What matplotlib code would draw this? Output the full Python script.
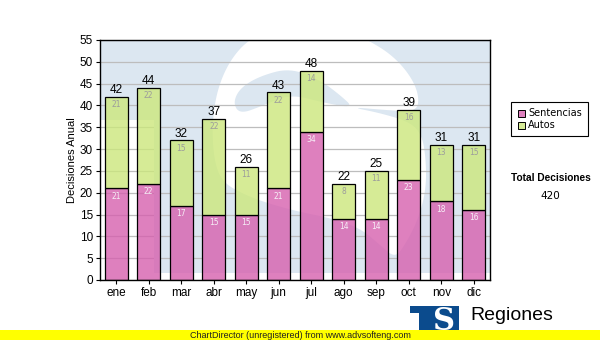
import matplotlib

matplotlib.use("Agg")
import matplotlib.pyplot as plt
import numpy as np
from matplotlib.colors import to_rgba
from matplotlib.patches import PathPatch, Polygon, Rectangle
from matplotlib.path import Path


months = ["ene", "feb", "mar", "abr", "may", "jun", "jul", "ago", "sep", "oct", "nov", "dic"]
sentencias = [21, 22, 17, 15, 15, 21, 34, 14, 14, 23, 18, 16]
autos = [21, 22, 15, 22, 11, 22, 14, 8, 11, 16, 13, 15]
series_names = ["Sentencias", "Autos"]
y_label = "Decisiones Anual"
total_title = "Total Decisiones"
footer_text = "ChartDirector (unregistered) from www.advsofteng.com"
brand_text = "Regiones"

PINK = "#d660ae"
GREEN = "#cce77c"
BAR_ALPHA = 0.8
WM_BLUE = "#dce7f1"
LOGO_BLUE = "#0b4b8d"

W, H = 600, 340
PLOT = (100, 40, 490, 280)  # left, top, right, bottom (pixels)

# background logo, in pixel coords: light panel, white "S", and the S's inner counter
WM_PANEL = [(100, 40), (490, 40), (490, 273), (154, 273), (154, 120), (100, 120)]
WM_S = [(350, 107), (385, 110), (417, 112), (419, 95), (410, 75), (392, 55), (368, 40),
        (340, 28), (280, 28), (250, 38), (230, 60), (217, 90), (212, 125), (214, 160),
        (222, 182), (245, 195), (270, 204), (300, 212), (330, 218), (360, 228),
        (380, 245), (395, 258), (405, 245), (418, 220), (426, 190), (426, 160),
        (422, 135), (410, 122), (380, 113)]
WM_COUNTER = [(233, 103), (240, 88), (260, 76), (290, 68), (320, 80), (340, 95),
              (354, 108), (325, 103), (290, 94), (262, 106), (240, 114)]


def px_rect(left, top, right, bottom):
    return [left / W, 1 - bottom / H, (right - left) / W, (bottom - top) / H]


def smooth_closed(points, n_iter=3):
    pts = np.asarray(points, dtype=float)
    for _ in range(n_iter):
        nxt = np.roll(pts, -1, axis=0)
        q = 0.75 * pts + 0.25 * nxt
        r = 0.25 * pts + 0.75 * nxt
        pts = np.empty((2 * len(q), 2))
        pts[0::2] = q
        pts[1::2] = r
    return pts


def draw_watermark(target, transform, zorder, clip=None):
    shapes = [
        Polygon(WM_PANEL, closed=True, facecolor=WM_BLUE),
        Polygon(smooth_closed(WM_S), closed=True, facecolor="white"),
        Polygon(smooth_closed(WM_COUNTER), closed=True, facecolor=WM_BLUE),
    ]
    for p in shapes:
        p.set_edgecolor("none")
        p.set_transform(transform)
        p.set_zorder(zorder)
        target.add_patch(p)
        if clip is not None:
            p.set_clip_path(clip)


fig = plt.figure(figsize=(W / 100, H / 100), dpi=100)
rect = px_rect(*PLOT)

ax_bg = fig.add_axes(rect, zorder=0)
ax_bg.set_xlim(PLOT[0], PLOT[2])
ax_bg.set_ylim(PLOT[3], PLOT[1])
ax_bg.axis("off")
draw_watermark(ax_bg, ax_bg.transData, 0)

ax = fig.add_axes(rect, zorder=1)
ax.patch.set_alpha(0)
x = np.arange(len(months))
totals = np.array(sentencias) + np.array(autos)

bar_kw = dict(width=0.71, edgecolor="black", linewidth=0.9, zorder=2)
b1 = ax.bar(x, sentencias, color=to_rgba(PINK, BAR_ALPHA), **bar_kw)
b2 = ax.bar(x, autos, bottom=sentencias, color=to_rgba(GREEN, BAR_ALPHA), **bar_kw)
for r in list(b1) + list(b2):
    r.set_edgecolor("black")

# repaint the logo inside the bars so grid lines stay hidden behind them
bar_paths = [r.get_path().transformed(r.get_patch_transform()) for r in list(b1) + list(b2)]
clip = PathPatch(Path.make_compound_path(*bar_paths), transform=ax.transData)
draw_watermark(ax, ax_bg.transData, 1, clip=clip)

for xi, s, a, t in zip(x, sentencias, autos, totals):
    ax.annotate(str(s), (xi, s), xytext=(0, -5.5), textcoords="offset points",
                ha="center", va="center", fontsize=5.5, color="#f6eef6",
                family="DejaVu Sans", zorder=3)
    ax.annotate(str(a), (xi, s + a), xytext=(0, -5.5), textcoords="offset points",
                ha="center", va="center", fontsize=5.5, color="#9c9c9c",
                family="DejaVu Sans", zorder=3)
    ax.annotate(str(t), (xi, t), xytext=(0, 0.5), textcoords="offset points",
                ha="center", va="bottom", fontsize=8.5, color="black",
                family="Liberation Sans", zorder=3)

ax.set_xlim(-0.5, len(months) - 0.5)
ax.set_ylim(0, 55)
ax.set_yticks(np.arange(0, 56, 5))
ax.set_xticks(x)
ax.set_xticklabels(months)
ax.grid(axis="y", color="#bdbdbd", lw=0.9)
ax.set_axisbelow(True)
ax.tick_params(axis="both", length=3, width=0.8, labelsize=8.5, pad=2, colors="black")
for lab in ax.get_xticklabels() + ax.get_yticklabels():
    lab.set_family("Liberation Sans")
for sp in ax.spines.values():
    sp.set_linewidth(1.0)

# figure-level overlay in pixel coordinates for legend, totals and footer
ov = fig.add_axes([0, 0, 1, 1], zorder=5)
ov.set_xlim(0, W)
ov.set_ylim(H, 0)
ov.axis("off")

ov.text(72, 160, y_label, rotation=90, ha="center", va="center", fontsize=8,
        family="Liberation Sans")

ov.add_patch(Rectangle((511, 102), 77, 34, fill=False, edgecolor="black", lw=0.8))
for i, (name, col) in enumerate(zip(series_names, [PINK, GREEN])):
    yy = 113 + 12 * i
    ov.add_patch(Rectangle((518, yy - 3.5), 7, 7, facecolor=to_rgba(col, BAR_ALPHA),
                           edgecolor="black", lw=0.7))
    ov.text(528, yy, name, ha="left", va="center", fontsize=7, family="DejaVu Sans")

ov.text(551, 178, total_title, ha="center", va="center", fontsize=7.3,
        fontweight="bold", family="Liberation Sans")
ov.text(550, 196, str(int(totals.sum())), ha="center", va="center", fontsize=7.5,
        family="DejaVu Sans")

# brand logo, partly covered by the footer band
ov.add_patch(Rectangle((410, 306), 49, 30, facecolor=LOGO_BLUE, edgecolor="none", zorder=1))
ov.add_patch(Rectangle((410, 313), 9, 24, facecolor="white", edgecolor="none", zorder=1))
ov.text(444, 322, "S", ha="center", va="center", fontsize=22, fontweight="bold",
        family="DejaVu Serif", color="white", zorder=2)
ov.text(470, 316, brand_text, ha="left", va="center", fontsize=14,
        family="Liberation Sans", zorder=2)

ov.add_patch(Rectangle((0, 330), W, 10, facecolor="#ffff00", edgecolor="none", zorder=3))
ov.text(300, 335.5, footer_text, ha="center", va="center", fontsize=6.5,
        family="Liberation Sans", color="#202020", zorder=4)

fig.savefig("out.png", dpi=100)
